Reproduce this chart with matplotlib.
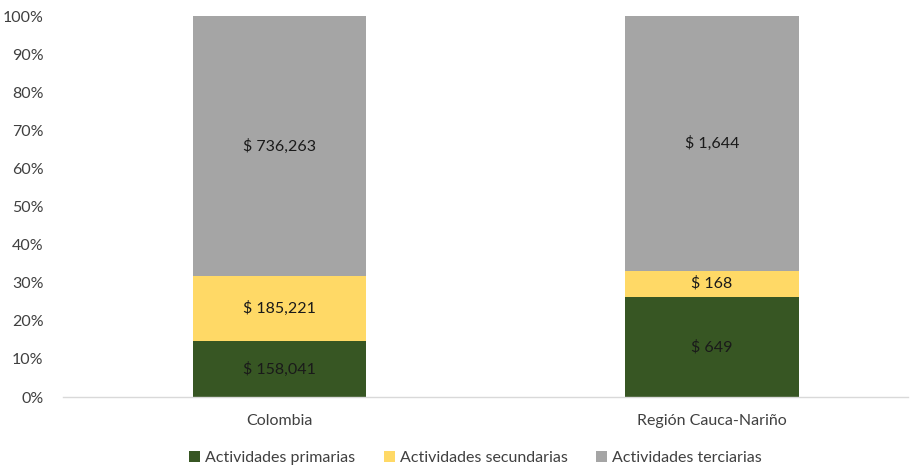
import matplotlib
matplotlib.use("Agg")
import matplotlib.pyplot as plt
from matplotlib.ticker import PercentFormatter

plt.rcParams['font.family'] = ['Lato', 'DejaVu Sans']

categories = ["Colombia", "Región Cauca-Nariño"]
series_names = ["Actividades primarias", "Actividades secundarias", "Actividades terciarias"]
primarias = [158041, 649]
secundarias = [185221, 168]
terciarias = [736263, 1644]
colors = ["#375623", "#FFD966", "#A5A5A5"]

series = [primarias, secundarias, terciarias]
totals = [sum(v) for v in zip(*series)]

fig = plt.figure(figsize=(9.14, 4.68), dpi=100)
ax = fig.add_axes([0.0689, 0.1517, 0.9245, 0.8141])

x = list(range(len(categories)))
bottoms = [0.0] * len(categories)
for name, vals, col in zip(series_names, series, colors):
    pct = [v / t * 100 for v, t in zip(vals, totals)]
    ax.bar(x, pct, width=0.4, bottom=bottoms, color=col, label=name, zorder=2)
    for xi, p, b, v in zip(x, pct, bottoms, vals):
        ax.text(xi, b + p / 2, f"$ {v:,}", ha="center", va="center",
                fontsize=11.5, color="#1a1a1a", zorder=3)
    bottoms = [b + p for b, p in zip(bottoms, pct)]

ax.set_xlim(-0.5, 1.453)
ax.set_ylim(0, 100)
ax.set_yticks(range(0, 101, 10))
ax.yaxis.set_major_formatter(PercentFormatter(decimals=0))
ax.set_xticks(x)
ax.set_xticklabels(categories)
for s in ["top", "right", "left"]:
    ax.spines[s].set_visible(False)
ax.spines["bottom"].set_color("#D9D9D9")
ax.spines["bottom"].set_linewidth(1)
ax.tick_params(axis="both", length=0, labelsize=11.5, colors="#404040")
ax.tick_params(axis="x", pad=12)
ax.tick_params(axis="y", pad=14)

leg = fig.legend(loc="lower center", bbox_to_anchor=(0.52, -0.025), ncol=3, frameon=False,
                 fontsize=11.5, handlelength=0.7, handleheight=0.7, handletextpad=0.3,
                 columnspacing=1.8)
for t in leg.get_texts():
    t.set_color("#404040")

fig.savefig("out.png", dpi=100)
